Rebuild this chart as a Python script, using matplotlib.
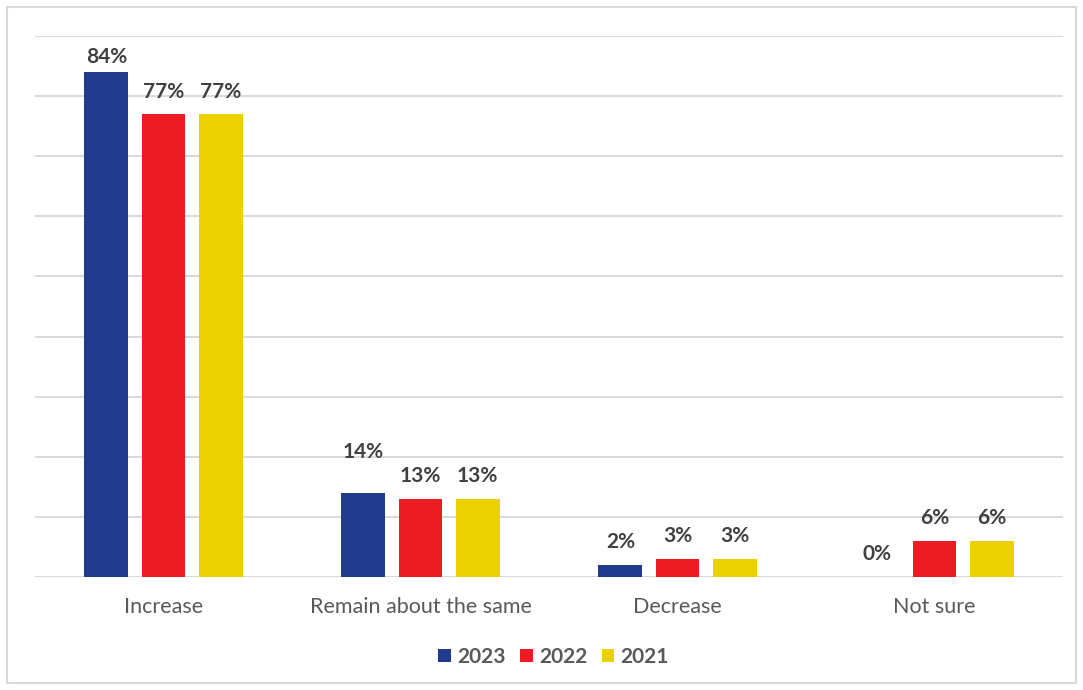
import numpy as np
import matplotlib
matplotlib.use('Agg')
import matplotlib.pyplot as plt
from matplotlib.patches import Rectangle

plt.rcParams['font.family'] = ['Lato', 'DejaVu Sans']

# survey answers and the share for each year (%)
categories = ['Increase', 'Remain about the same', 'Decrease', 'Not sure']
years = ['2023', '2022', '2021']
pct_2023 = [84, 14, 2, 0]
pct_2022 = [77, 13, 3, 6]
pct_2021 = [77, 13, 3, 6]
colors = ['#223a8c', '#ec1c24', '#ebd100']

series = [pct_2023, pct_2022, pct_2021]

# label nudges (data units) for labels moved off their default spot
nudge = {(0, 0): -1.3, (0, 1): 3.0}

fig = plt.figure(figsize=(10.83, 6.90), dpi=100)
ax = fig.add_axes([35/1083, 113/690, 1028/1083, 541/690])

x = np.arange(len(categories))
width = 0.171
step = 0.222

for i, (vals, col, yr) in enumerate(zip(series, colors, years)):
  pos = x + (i - 1) * step
  bars = ax.bar(pos, vals, width, color=col, label=yr, zorder=3)
  for j, (b, v) in enumerate(zip(bars, vals)):
    off = 2.1 + nudge.get((i, j), 0)
    ax.text(b.get_x() + b.get_width()/2, v + off, f'{v}%',
            ha='center', va='bottom', fontsize=15, fontweight='bold',
            color='#404040', zorder=4)

ax.set_xlim(-0.5, len(categories) - 0.5)
ax.set_ylim(0, 90)
ax.set_yticks(np.arange(0, 91, 10))
ax.yaxis.grid(True, color='#d9d9d9', linewidth=1.4, zorder=0)
ax.tick_params(axis='y', left=False, labelleft=False)
ax.tick_params(axis='x', bottom=False, pad=11)
ax.set_xticks(x)
ax.set_xticklabels(categories, fontsize=15.5, color='#595959')
for s in ax.spines.values():
  s.set_visible(False)

leg = fig.legend(loc='center', bbox_to_anchor=(0.5 + 12/1083, (690-657)/690), ncol=3,
                 frameon=False, fontsize=15, handlelength=0.6, handleheight=0.6,
                 handletextpad=0.3, columnspacing=0.7)
for t in leg.get_texts():
  t.set_color('#595959')
  t.set_fontweight('bold')

# light outline around the whole chart
fig.patches.append(Rectangle((7/1083, 7/690), 1069/1083, 676/690,
                             transform=fig.transFigure, fill=False,
                             edgecolor='#d9d9d9', linewidth=1.5))

fig.savefig('out.png', dpi=100)
